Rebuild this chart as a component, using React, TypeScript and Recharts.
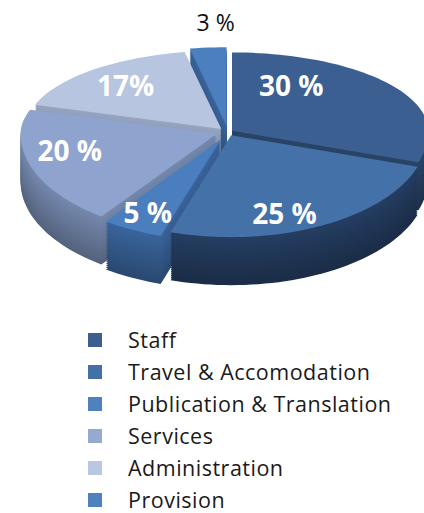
import { PieChart, Pie } from 'recharts'

const categories = [
  'Staff',
  'Travel & Accomodation',
  'Publication & Translation',
  'Services',
  'Administration',
  'Provision',
]
const shares = [30, 25, 5, 20, 17, 3]
const shareLabels = ['30 %', '25 %', '5 %', '20 %', '17%', '3 %']

const data = categories.map((name, i) => ({ name, value: shares[i] }))

// top face / side wall colours per slice
const TOP = ['#3b5f91', '#4371a8', '#4a7ebe', '#8ea4cf', '#b7c5e0', '#4b7fbe']
const SIDE = ['#2a4568', '#253e62', '#3a659c', '#7589ae', '#97a6c2', '#3a659c']
const SWATCH = ['#3c5f8f', '#4470a6', '#4f81bd', '#95a9d1', '#b9c7e0', '#4f81bd']

// how far each slice is pulled out, and small label nudges
const EXPLODE = [5, 7, 15, 12, 10, 16]
const LABEL_NUDGE: [number, number][] = [
  [-36, -18],
  [0, 23],
  [-20, 19],
  [-35, -3],
  [-18, -9],
  [15, 6],
]

const CX = 223
const CY = 127
const R = 196
const KB = 0.4 // back half squash
const KF = 0.52 // front half squash
const DEPTH = 48
const STEP = 2
const RAD = Math.PI / 180

const proj = (cx: number, cy: number, r: number, deg: number): [number, number] => {
  const a = deg * RAD
  const s = Math.sin(a)
  return [cx + r * Math.cos(a), cy - r * s * (s > 0 ? KB : KF)]
}

const shade = (hex: string, t: number) => {
  const n = parseInt(hex.slice(1), 16)
  const f = (v: number) => Math.round(v * (1 - t))
  const r = f((n >> 16) & 255)
  const g = f((n >> 8) & 255)
  const b = f(n & 255)
  return `rgb(${r},${g},${b})`
}

const makeShape = (colors: string[], dark: number) => (props: any) => {
  const { cx, cy, outerRadius, startAngle, endAngle, midAngle, index } = props
  const i = index ?? categories.indexOf(props.name ?? props.payload?.name)
  const [ex, ey] = proj(0, 0, EXPLODE[i], midAngle)
  const x0 = cx + ex
  const y0 = cy + ey
  const n = Math.max(4, Math.ceil(Math.abs(endAngle - startAngle) / 2))
  let d = `M${x0},${y0}`
  for (let k = 0; k <= n; k++) {
    const a = startAngle + ((endAngle - startAngle) * k) / n
    const [px, py] = proj(x0, y0, outerRadius, a)
    d += ` L${px},${py}`
  }
  d += ' Z'
  return <path d={d} fill={shade(colors[i], dark)} stroke="none" />
}

const renderLabel = (props: any) => {
  const { cx, cy, midAngle, index } = props
  const outside = index === 5
  const f = outside ? 1.4 : 0.6
  const [ex, ey] = proj(0, 0, EXPLODE[index], midAngle)
  const [bx, by] = proj(cx + ex, cy + ey, R * f, midAngle)
  const x = bx + LABEL_NUDGE[index][0]
  const y = by + LABEL_NUDGE[index][1]
  return (
    <text
      x={x}
      y={y}
      textAnchor="middle"
      dominantBaseline="central"
      fill={outside ? '#111' : '#fff'}
      fontSize={outside ? 23 : 28}
      fontWeight={outside ? 400 : 700}
      fontFamily="'Open Sans', sans-serif"
    >
      {shareLabels[index]}
    </text>
  )
}

const layers: number[] = []
for (let d = DEPTH; d > 0; d -= STEP) layers.push(d)

export default function App() {
  return (
    <div
      style={{
        position: 'absolute',
        left: 0,
        top: 0,
        width: 424,
        height: 513,
        background: '#fff',
        fontFamily: "'Open Sans', sans-serif",
      }}
    >
      <PieChart width={424} height={320}>
        {layers.map((d) => (
          <Pie
            key={`side-${d}`}
            data={data}
            dataKey="value"
            nameKey="name"
            cx={CX}
            cy={CY + d}
            outerRadius={R}
            startAngle={90}
            endAngle={-270}
            stroke="none"
            isAnimationActive={false}
            shape={makeShape(SIDE, (0.28 * d) / DEPTH)}
          />
        ))}
        <Pie
          data={data}
          dataKey="value"
          nameKey="name"
          cx={CX}
          cy={CY}
          outerRadius={R}
          startAngle={90}
          endAngle={-270}
          stroke="none"
          isAnimationActive={false}
          shape={makeShape(TOP, 0)}
          label={renderLabel}
          labelLine={false}
        />
      </PieChart>

      {/* legend */}
      <div style={{ position: 'absolute', left: 88, top: 324 }}>
        {categories.map((name, i) => (
          <div key={name} style={{ display: 'flex', alignItems: 'center', height: 32 }}>
            <span
              style={{ display: 'inline-block', width: 14, height: 14, background: SWATCH[i] }}
            />
            <span
              style={{
                marginLeft: 26,
                fontSize: 21.5,
                letterSpacing: 0.5,
                color: '#1a1a1a',
                lineHeight: 1.1,
              }}
            >
              {name}
            </span>
          </div>
        ))}
      </div>
    </div>
  )
}
